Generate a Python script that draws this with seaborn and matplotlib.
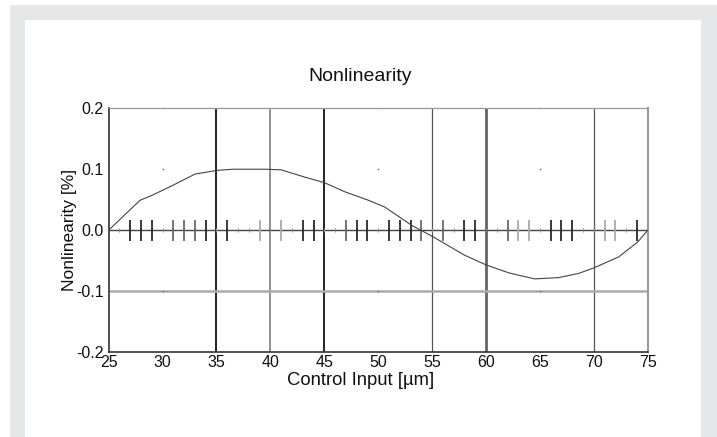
import matplotlib
matplotlib.use("Agg")
import matplotlib.pyplot as plt
from matplotlib.patches import Rectangle
import numpy as np
import pandas as pd
import seaborn as sns

# ---- data ----
curve_x = [25, 27.9, 29, 31, 33, 35, 36.5, 39.5, 41, 43.2, 45, 46.9, 49.1, 50.6,
           53.1, 55.1, 58, 60, 62.1, 64.5, 66.7, 68.6, 70, 72.3, 74.1, 75]
curve_y = [0.0, 0.049, 0.057, 0.074, 0.092, 0.098, 0.100, 0.100, 0.099, 0.087,
           0.078, 0.063, 0.049, 0.038, 0.008, -0.011, -0.041, -0.057, -0.070,
           -0.080, -0.078, -0.071, -0.062, -0.044, -0.019, 0.0]

rug_x = [27, 28, 29, 31, 32, 33, 34, 36, 39, 41, 43, 44, 47, 48, 49, 51, 52, 53,
         54, 56, 58, 59, 62, 63, 64, 66, 67, 68, 71, 72, 74]
rug_tone = ["dark", "dark", "dark", "mid", "mid", "mid", "dark", "dark", "light",
            "light", "dark", "dark", "mid", "dark", "dark", "dark", "dark", "dark",
            "mid", "mid", "dark", "dark", "mid", "light", "light", "dark", "dark",
            "dark", "light", "light", "dark"]

x_ticks = [25, 30, 35, 40, 45, 50, 55, 60, 65, 70, 75]
y_ticks = [-0.2, -0.1, 0.0, 0.1, 0.2]

title = "Nonlinearity"
x_label = "Control Input [µm]"
y_label = "Nonlinearity [%]"

# ---- style ----
sns.set_style("white")
plt.rcParams["font.family"] = ["Liberation Sans", "DejaVu Sans"]

W, H = 717, 437
fig = plt.figure(figsize=(W / 100, H / 100), dpi=100)
fig.patch.set_facecolor("white")
fig.patches.append(Rectangle((10 / W, 0), (W - 10) / W, (H - 5) / H,
                             transform=fig.transFigure, facecolor="#e6e7e8",
                             edgecolor="none", zorder=-10))
fig.patches.append(Rectangle((25 / W, 0), (701 - 25) / W, (H - 20) / H,
                             transform=fig.transFigure, facecolor="white",
                             edgecolor="none", zorder=-9))

ax = fig.add_axes([108.7 / W, 1 - 352 / H, (647.7 - 108.7) / W, (352 - 108.3) / H])
ax.set_facecolor("white")

# grid lines (selected as in the reference)
vgrid = {35: ("#111111", 1.3), 40: ("#888888", 1.3), 45: ("#111111", 1.3),
         55: ("#555555", 0.9), 60: ("#666666", 2.0), 70: ("#555555", 0.9)}
for xv, (c, lw) in vgrid.items():
    ax.axvline(xv, color=c, lw=lw, zorder=1)
ax.axhline(0.0, color="#444444", lw=1.0, zorder=1)
ax.axhline(-0.1, color="#aaaaaa", lw=1.8, zorder=1)

# small dots at unused grid intersections
for xv in [30, 50, 65]:
    ax.scatter([xv] * 4, [0.2, 0.1, -0.1, -0.2], s=1.5, color="#777777",
               zorder=2, linewidths=0)

# small ticks along the zero line at each unit
ax.vlines(np.arange(26, 75), -0.003, 0.003, color="#888888", lw=0.8, zorder=2)

# rug marks
tone_color = {"dark": "#2a2a2a", "mid": "#6a6a6a", "light": "#ababab"}
for xv, t in zip(rug_x, rug_tone):
    ax.vlines(xv, -0.018, 0.017, color=tone_color[t], lw=1.3, zorder=3)

# curve
df = pd.DataFrame({"x": curve_x, "y": curve_y})
sns.lineplot(data=df, x="x", y="y", ax=ax, color="#444444", lw=0.8,
             sort=False, zorder=4)

ax.set_xlim(25, 75)
ax.set_ylim(-0.2, 0.2)
ax.set_xticks(x_ticks)
ax.set_xticklabels([str(v) for v in x_ticks])
ax.set_yticks(y_ticks)
ax.set_yticklabels([f"{v:.1f}" for v in y_ticks])
ax.tick_params(axis="both", labelsize=11.5, colors="#111111", length=2.5,
               width=0.8, pad=1, direction="out")
ax.tick_params(axis="x", pad=0)

for side, c, lw in [("left", "#333333", 1.2), ("bottom", "#333333", 1.2),
                    ("top", "#999999", 0.9), ("right", "#999999", 1.5)]:
    ax.spines[side].set_visible(True)
    ax.spines[side].set_color(c)
    ax.spines[side].set_linewidth(lw)

ax.set_xlabel(x_label, fontsize=13.3, color="#111111", labelpad=1.0)
ax.xaxis.label.set_x(0.467)
ax.set_ylabel(y_label, fontsize=12.5, color="#111111", labelpad=-0.8)
ax.set_title(title, fontsize=14, color="#111111", pad=20, x=0.467)

fig.savefig("out.png", dpi=100)
